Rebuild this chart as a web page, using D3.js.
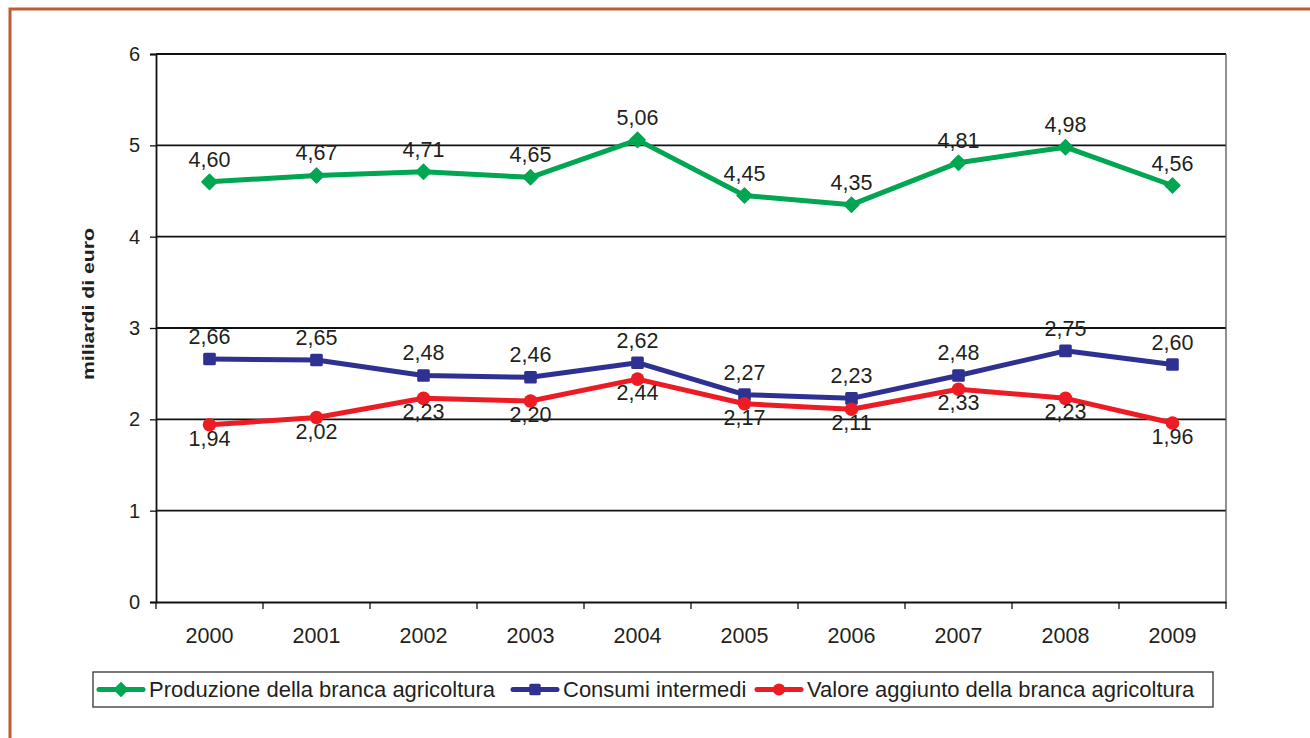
<!DOCTYPE html>
<html><head><meta charset="utf-8">
<script src="https://cdn.jsdelivr.net/npm/d3@7/dist/d3.min.js"></script>
<style>
html,body{margin:0;padding:0;background:#fff;}
svg{display:block;font-family:"Liberation Sans",Arial,Helvetica,sans-serif;}
</style></head>
<body>
<svg id="chart" width="1310" height="738"></svg>
<script>
const years = ["2000","2001","2002","2003","2004","2005","2006","2007","2008","2009"];
const produzione = [4.60,4.67,4.71,4.65,5.06,4.45,4.35,4.81,4.98,4.56];
const consumi = [2.66,2.65,2.48,2.46,2.62,2.27,2.23,2.48,2.75,2.60];
const valore = [1.94,2.02,2.23,2.20,2.44,2.17,2.11,2.33,2.23,1.96];
const yTicks = [0,1,2,3,4,5,6];
const seriesNames = ["Produzione della branca agricoltura","Consumi intermedi","Valore aggiunto della branca agricoltura"];

(function(){
const series = [
  {name: seriesNames[0], values: produzione, color: "#00A651", marker: "diamond", label: "above"},
  {name: seriesNames[1], values: consumi, color: "#2E3192", marker: "square", label: "above"},
  {name: seriesNames[2], values: valore, color: "#ED1C24", marker: "circle", label: "below"}
];

const svg = d3.select("#chart");
const pL = 156, pR = 1226, pT = 54, pB = 602;
const x = d3.scaleBand().domain(years).range([pL, pR]).padding(0);
const y = d3.scaleLinear().domain([0, 6]).range([pB, pT]);
const cx = d => x(d) + x.bandwidth() / 2;
const fmt = v => d3.format(".2f")(v).replace(".", ",");

// outer frame
svg.append("path").attr("d", `M10,738 L10,9 L1310,9`).attr("fill","none")
  .attr("stroke","#BF5B35").attr("stroke-width",3);

// gridlines
svg.append("g").selectAll("line").data(yTicks.filter(t => t > 0)).join("line")
  .attr("x1", pL).attr("x2", pR).attr("y1", d => y(d)).attr("y2", d => y(d))
  .attr("stroke", "#111").attr("stroke-width", 1.8);
// right border
svg.append("line").attr("x1", pR).attr("x2", pR).attr("y1", pT).attr("y2", pB)
  .attr("stroke", "#555").attr("stroke-width", 1.3);

// y axis
const yAxis = svg.append("g").attr("transform", `translate(${pL},0)`)
  .call(d3.axisLeft(y).tickValues(yTicks).tickSize(6).tickPadding(10).tickFormat(d => d));
yAxis.select(".domain").attr("stroke", "#111").attr("stroke-width", 1.8);
yAxis.selectAll(".tick line").attr("stroke", "#111").attr("stroke-width", 1.3);
yAxis.selectAll(".tick text").attr("font-size", 20).attr("fill", "#231F20")
  .attr("font-family", "Liberation Sans, Arial, sans-serif");

// x axis
const xAxis = svg.append("g").attr("transform", `translate(0,${pB})`)
  .call(d3.axisBottom(x).tickSize(0).tickPadding(26));
xAxis.select(".domain").attr("stroke", "#111").attr("stroke-width", 1.8);
xAxis.selectAll(".tick text").attr("font-size", 21.5).attr("fill", "#231F20")
  .attr("font-family", "Liberation Sans, Arial, sans-serif");
const edges = years.map(d => x(d)).concat([pR]);
svg.append("g").selectAll("line").data(edges).join("line")
  .attr("x1", d => d).attr("x2", d => d).attr("y1", pB).attr("y2", pB + 7)
  .attr("stroke", "#111").attr("stroke-width", 1.3);

// y title
svg.append("text").attr("transform", `translate(94,304) rotate(-90)`)
  .attr("text-anchor", "middle").attr("font-size", 16).attr("font-weight", "bold")
  .attr("textLength", 152).attr("lengthAdjust", "spacingAndGlyphs")
  .attr("fill", "#231F20").text("miliardi di euro");

function drawMarker(g, type, color, px, py, s) {
  if (type === "diamond") {
    const r = 7.5 * s;
    g.append("path").attr("d", `M${px},${py - r} L${px + r},${py} L${px},${py + r} L${px - r},${py} Z`)
      .attr("fill", color).attr("stroke", color).attr("stroke-width", 1.5).attr("stroke-linejoin", "round");
  } else if (type === "square") {
    const h = 6.3 * s;
    g.append("rect").attr("x", px - h).attr("y", py - h).attr("width", 2 * h).attr("height", 2 * h)
      .attr("rx", 1.5).attr("fill", color);
  } else {
    g.append("circle").attr("cx", px).attr("cy", py).attr("r", 6.8 * s).attr("fill", color);
  }
}

const line = d3.line().x((v, i) => cx(years[i])).y(v => y(v));
series.forEach(s => {
  const g = svg.append("g");
  g.append("path").attr("d", line(s.values)).attr("fill", "none")
    .attr("stroke", s.color).attr("stroke-width", 5).attr("stroke-linejoin", "round");
  s.values.forEach((v, i) => drawMarker(g, s.marker, s.color, cx(years[i]), y(v), 1));
});
// labels
series.forEach(s => {
  svg.append("g").selectAll("text").data(s.values).join("text")
    .attr("x", (v, i) => cx(years[i]))
    .attr("y", v => s.label === "above" ? y(v) - 15 : y(v) + 21)
    .attr("text-anchor", "middle").attr("font-size", 21.5).attr("fill", "#231F20")
    .text(v => fmt(v));
});

// legend
const lg = svg.append("g");
lg.append("rect").attr("x", 93).attr("y", 672).attr("width", 1120).attr("height", 35)
  .attr("fill", "#fff").attr("stroke", "#333").attr("stroke-width", 1.3);
const legendX = [99, 513, 757];
series.forEach((s, i) => {
  const lx = legendX[i], ly = 689.5;
  lg.append("line").attr("x1", lx).attr("x2", lx + 44).attr("y1", ly).attr("y2", ly)
    .attr("stroke", s.color).attr("stroke-width", 5).attr("stroke-linecap", "round");
  drawMarker(lg, s.marker, s.color, lx + 22, ly, 0.9);
  lg.append("text").attr("x", lx + 50).attr("y", ly + 7.5).attr("font-size", 22)
    .attr("fill", "#231F20").text(s.name);
});
})();
</script>
</body></html>
